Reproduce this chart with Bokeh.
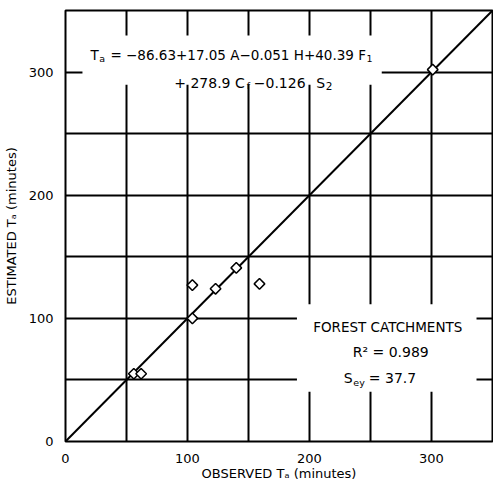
import math
from bokeh.plotting import figure
from bokeh.models import Label, BoxAnnotation, FixedTicker
from bokeh.embed import file_html
from bokeh.resources import INLINE

# ---- data ----
observed = [56, 62, 104, 104, 123, 140, 159, 301]
estimated = [55, 55, 100, 127, 124, 141, 128, 302]
equality_x = [0, 350]
equality_y = [0, 350]
tick_values = [0, 100, 200, 300]
grid_values = [50, 100, 150, 200, 250, 300]

FONT = "DejaVu Sans"

p = figure(width=493, height=483, x_range=(0, 350), y_range=(0, 350),
           output_backend="svg", toolbar_location=None,
           min_border_left=65, min_border_right=1, min_border_top=10, min_border_bottom=36)
p.background_fill_color = "white"
p.border_fill_color = "white"
p.outline_line_color = "black"
p.outline_line_width = 2

for ax, standoff in ((p.xaxis, 6), (p.yaxis, 6)):
    ax.ticker = FixedTicker(ticks=tick_values)
    ax.axis_line_color = None
    ax.major_tick_line_color = None
    ax.minor_tick_line_color = None
    ax.major_label_text_font = FONT
    ax.major_label_text_font_size = "13px"
    ax.major_label_text_color = "black"
    ax.major_label_standoff = standoff
    ax.axis_label_text_font = FONT
    ax.axis_label_text_font_style = "normal"
    ax.axis_label_text_color = "black"
    ax.axis_label_text_font_size = "13px"

p.xaxis.axis_label = "OBSERVED Tₐ (minutes)"
p.xaxis.axis_label_standoff = 0
p.yaxis.axis_label = "ESTIMATED Tₐ (minutes)"
p.yaxis.axis_label_standoff = 7

for g in (p.xgrid, p.ygrid):
    g.ticker = FixedTicker(ticks=grid_values)
    g.grid_line_color = "black"
    g.grid_line_width = 2
    g.grid_line_alpha = 1.0


# reference-image pixel -> data coordinates (for text placement)
def X(px):
    return (px - 65) / 1.2229


def Y(py):
    return (447.5 - py) / 1.2514


# white panels that interrupt the grid behind the texts
p.add_layout(BoxAnnotation(left=X(82), right=X(382), bottom=Y(85), top=Y(35),
                           fill_color="white", fill_alpha=1.0, line_color=None))
p.add_layout(BoxAnnotation(left=X(297), right=X(477), bottom=Y(397), top=Y(308),
                           fill_color="white", fill_alpha=1.0, line_color=None))

p.line(equality_x, equality_y, line_color="black", line_width=2)
p.scatter(observed, estimated, marker="square", angle=math.pi / 4, size=7.5,
          fill_color="white", line_color="black", line_width=1.5)


def group(ax_px, ay_py, pieces, align="left"):
    for text, dx, dy, size in pieces:
        p.add_layout(Label(x=X(ax_px), y=Y(ay_py), text=text, x_offset=dx, y_offset=dy,
                           text_font=FONT, text_font_size=f"{size}px",
                           text_color="black", text_align=align,
                           text_baseline="alphabetic"))


# equation
group(90, 55, [("T", 0, 0, 13.5), ("a", 8.7, -3, 9.5),
               ("= −86.63+17.05 A−0.051 H+40.39 F", 20, 0, 13.5), ("1", 276, -3, 9.5)])
group(174, 83, [("+ 278.9 C", 0, 0, 14), ("f", 72.5, -3, 9.5),
                ("−0.126", 79.5, 0, 14), ("S", 142, 0, 14), ("2", 151.5, -3, 10.5)])

# legend block
group(388, 331, [("FOREST CATCHMENTS", 0, 0, 13.5)], align="center")
group(391, 357, [("R² = 0.989", 0, 0, 14)], align="center")
group(344, 383, [("S", 0, 0, 14), ("ey", 9.5, -4, 9.5), ("= 37.7", 25, 0, 14)])

open("out.html", "w").write(file_html(p, INLINE))
